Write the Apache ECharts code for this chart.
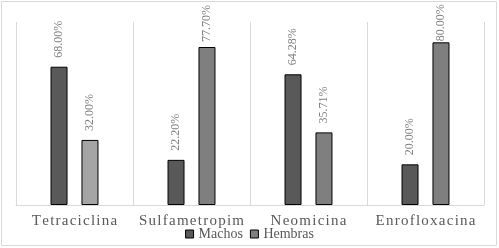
<!DOCTYPE html>
<html>
<head>
<meta charset="utf-8">
<script src="https://cdn.jsdelivr.net/npm/echarts@6/dist/echarts.min.js"></script>
<style>
  html, body { margin: 0; padding: 0; background: #fff; }
  #main { width: 499px; height: 248px; }
</style>
</head>
<body>
<div id="main"></div>
<script>
const categories = ['Tetraciclina', 'Sulfametropim', 'Neomicina', 'Enrofloxacina'];
const machos = [68.00, 22.20, 64.28, 20.00];
const hembras = [32.00, 77.70, 35.71, 80.00];
const seriesNames = ['Machos', 'Hembras'];

const font = 'Liberation Serif';
const textColor = '#595959';
const gridColor = '#d9d9d9';
// Excel pushes the tallest labels down so they stay inside the chart
const labelDist = { Hembras: [9, 5, 9, 1] };

function buildData(values, name, colorFn) {
    return values.map((v, i) => ({
        value: v,
        itemStyle: { color: colorFn(i) },
        label: { distance: (labelDist[name] || [])[i] !== undefined ? labelDist[name][i] : 9 }
    }));
}

function spaced(s) {
    return s.split('').join('\u200A');
}

const chart = echarts.init(document.getElementById('main'));
chart.setOption({
    animation: false,
    textStyle: { fontFamily: font },
    grid: { left: 16, right: 15, top: 22, bottom: 43 },
    legend: {
        bottom: 2,
        left: 'center',
        itemWidth: 8,
        itemHeight: 8,
        itemGap: 7,
        icon: 'rect',
        itemStyle: { borderColor: '#000', borderWidth: 1 },
        formatter: '{t|{name}}',
        textStyle: {
            fontFamily: font,
            fontSize: 14,
            color: textColor,
            rich: { t: { fontFamily: font, fontSize: 14, color: textColor } }
        },
        data: seriesNames
    },
    xAxis: {
        type: 'category',
        data: categories,
        axisTick: { show: false },
        axisLine: { lineStyle: { color: gridColor, width: 1 } },
        splitLine: { show: true, lineStyle: { color: gridColor, width: 1 } },
        axisLabel: {
            interval: 0,
            margin: 9,
            fontFamily: font,
            fontSize: 15,
            color: textColor,
            formatter: spaced
        }
    },
    yAxis: {
        type: 'value',
        min: 0,
        max: 90,
        show: false,
        splitLine: { show: false }
    },
    series: [
        {
            name: seriesNames[0],
            type: 'bar',
            barWidth: 17,
            barGap: '82%',
            itemStyle: { color: '#595959', borderColor: '#000', borderWidth: 1 },
            label: {
                show: true,
                position: 'top',
                rotate: 90,
                align: 'left',
                verticalAlign: 'middle',
                fontFamily: font,
                fontSize: 12,
                color: '#7f7f7f',
                formatter: p => p.value.toFixed(2) + '%'
            },
            data: buildData(machos, 'Machos', () => '#595959')
        },
        {
            name: seriesNames[1],
            type: 'bar',
            barWidth: 17,
            itemStyle: { color: '#7f7f7f', borderColor: '#000', borderWidth: 1 },
            label: {
                show: true,
                position: 'top',
                rotate: 90,
                align: 'left',
                verticalAlign: 'middle',
                fontFamily: font,
                fontSize: 12,
                color: '#7f7f7f',
                formatter: p => p.value.toFixed(2) + '%'
            },
            data: buildData(hembras, 'Hembras', i => i === 0 ? '#a5a5a5' : '#7f7f7f')
        }
    ],
    graphic: [{
        type: 'rect',
        shape: { x: 1.5, y: 1.5, width: 495, height: 244 },
        style: { fill: 'none', stroke: '#d9d9d9', lineWidth: 1 },
        silent: true
    }]
});
</script>
</body>
</html>
